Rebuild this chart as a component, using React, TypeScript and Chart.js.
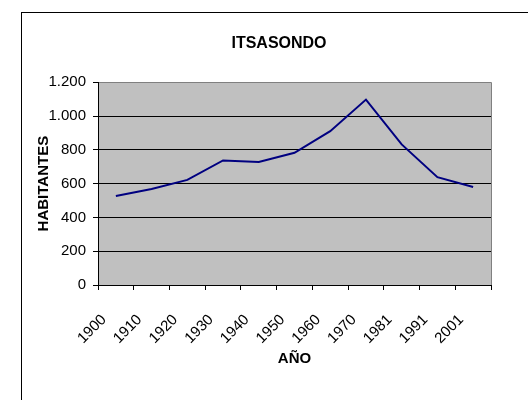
import React, { useEffect, useRef } from "react";
import { Chart, registerables } from "chart.js";

Chart.register(...registerables);

const years = ["1900", "1910", "1920", "1930", "1940", "1950", "1960", "1970", "1981", "1991", "2001"];
const habitantes = [527, 568, 622, 737, 728, 782, 910, 1097, 832, 638, 580];
const yMin = 0;
const yMax = 1200;
const yStep = 200;

const FONT = "'Liberation Sans', Arial, sans-serif";

const fmt = (v: number) => String(v).replace(/\B(?=(\d{3})+(?!\d))/g, ".");

const plotBg = {
  id: "plotBg",
  beforeDraw(chart: any) {
    const { ctx, chartArea } = chart;
    if (!chartArea) return;
    const { left, top, right, bottom } = chartArea;
    ctx.save();
    ctx.fillStyle = "#c0c0c0";
    ctx.fillRect(left, top, right - left, bottom - top);
    ctx.strokeStyle = "#808080";
    ctx.lineWidth = 1;
    ctx.beginPath();
    ctx.moveTo(Math.round(left) + 0.5, Math.round(top) + 0.5);
    ctx.lineTo(Math.round(right) + 0.5, Math.round(top) + 0.5);
    ctx.lineTo(Math.round(right) + 0.5, Math.round(bottom) + 0.5);
    ctx.stroke();
    ctx.restore();
  },
};

export default function App() {
  const ref = useRef<HTMLCanvasElement>(null);

  useEffect(() => {
    if (!ref.current) return;
    const chart = new Chart(ref.current, {
      type: "line",
      data: {
        labels: years,
        datasets: [
          {
            label: "HABITANTES",
            data: habitantes,
            borderColor: "#000080",
            borderWidth: 2,
            pointRadius: 0,
            tension: 0,
            fill: false,
            yAxisID: "y",
          },
        ],
      },
      plugins: [plotBg],
      options: {
        animation: false,
        responsive: false,
        devicePixelRatio: 1,
        layout: { padding: 0 },
        plugins: {
          legend: { display: false },
          tooltip: { enabled: false },
          title: {
            display: true,
            text: "ITSASONDO",
            color: "#000",
            font: { family: FONT, size: 16, weight: "bold" },
            padding: { top: 21, bottom: 29 },
          },
        },
        scales: {
          x: {
            type: "category",
            offset: true,
            grid: {
              offset: true,
              drawOnChartArea: false,
              drawTicks: true,
              tickLength: 5,
              tickColor: "#000",
            },
            border: { color: "#000", width: 1 },
            ticks: {
              color: "#000",
              font: { family: FONT, size: 15 },
              minRotation: 45,
              maxRotation: 45,
              autoSkip: false,
              padding: 21,
              labelOffset: -12,
            },
            title: {
              display: true,
              text: "AÑO",
              color: "#000",
              font: { family: FONT, size: 15, weight: "bold" },
              padding: { top: 0, bottom: 45 },
            },
            afterFit: (scale: any) => {
              scale.height = 128;
            },
          },
          y: {
            min: yMin,
            max: yMax,
            grid: {
              color: (c: any) => (c.tick && c.tick.value === yMax ? "#808080" : "#000"),
              tickColor: "#000",
              tickLength: 5,
              lineWidth: 1,
            },
            border: { color: "#000", width: 1 },
            ticks: {
              stepSize: yStep,
              color: "#000",
              font: { family: FONT, size: 15 },
              padding: 7,
              callback: (v: any) => fmt(Number(v)),
            },
            title: {
              display: true,
              text: "HABITANTES",
              color: "#000",
              font: { family: FONT, size: 15, weight: "bold" },
              padding: { top: 13, bottom: 0 },
            },
            afterFit: (scale: any) => {
              scale.width = 76;
            },
          },
          spacer: {
            type: "linear",
            position: "right",
            display: true,
            grid: { display: false, drawOnChartArea: false, drawTicks: false },
            border: { display: false },
            ticks: { display: false },
            afterFit: (scale: any) => {
              scale.width = 45;
            },
          },
        },
      },
    });
    return () => chart.destroy();
  }, []);

  return (
    <div
      style={{
        position: "fixed",
        left: 21,
        top: 12,
        border: "1px solid #000",
        background: "#fff",
        lineHeight: 0,
      }}
    >
      <canvas ref={ref} width={514} height={400} style={{ display: "block", width: 514, height: 400 }} />
    </div>
  );
}
